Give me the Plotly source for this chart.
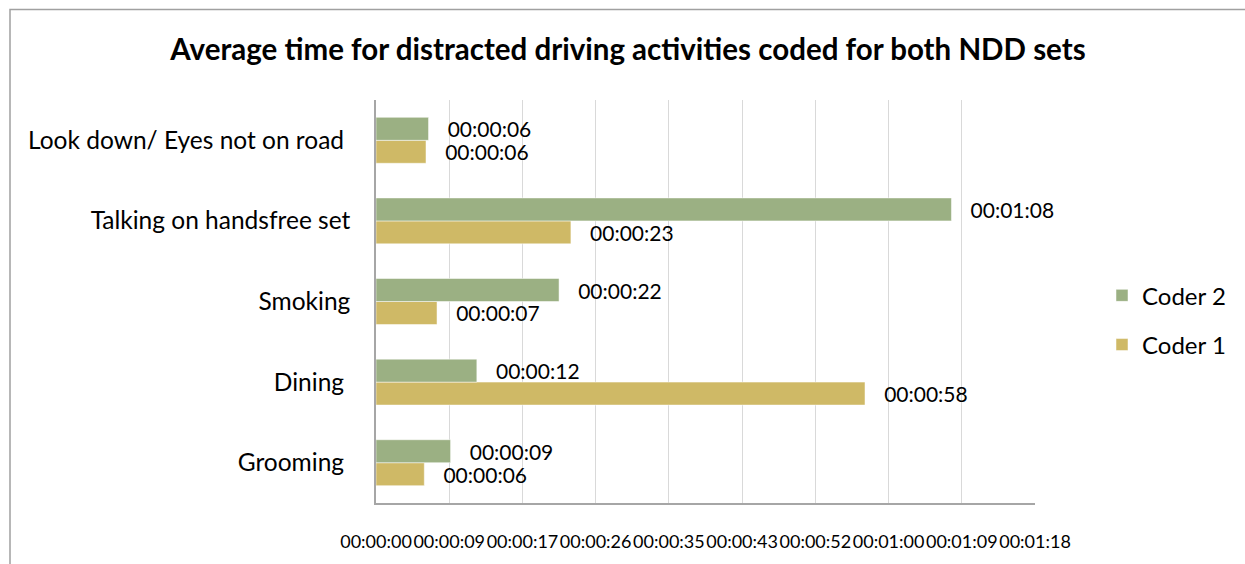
import plotly.graph_objects as go

categories = ["Grooming\u00a0", "Dining\u00a0", "Smoking", "Talking on handsfree set", "Look down/ Eyes not on road\u00a0"]
coder1_sec = [5.7, 57.7, 7.2, 23.0, 5.9]
coder2_sec = [8.8, 11.9, 21.6, 67.9, 6.2]
tick_vals = [0, 8.64, 17.28, 25.92, 34.56, 43.2, 51.84, 60.48, 69.12, 77.76]
tick_text = ["00:00:00", "00:00:09", "00:00:17", "00:00:26", "00:00:35",
             "00:00:43", "00:00:52", "00:01:00", "00:01:09", "00:01:18"]

def fmt(s):
    s = int(round(s))
    return "\u00a0\u00a0\u00a0%02d:%02d:%02d" % (s // 3600, (s % 3600) // 60, s % 60)

FONT = "Lato"
green = "#9BB083"
tan = "#CFB966"

fig = go.Figure()
fig.add_trace(go.Bar(
    y=categories, x=coder1_sec, orientation="h", name="Coder 1",
    marker=dict(color=tan, line=dict(color="white", width=0.5)),
    text=[fmt(v) for v in coder1_sec], textposition="outside", constraintext="none",
    textfont=dict(family=FONT, size=21, color="black"), cliponaxis=False,
    legendgroup="c1", legendrank=2,
))
fig.add_trace(go.Bar(
    y=categories, x=coder2_sec, orientation="h", name="Coder 2",
    marker=dict(color=green, line=dict(color="white", width=0.5)),
    text=[fmt(v) for v in coder2_sec], textposition="outside", constraintext="none",
    textfont=dict(family=FONT, size=21, color="black"), cliponaxis=False,
    legendgroup="c2", legendrank=1,
))

W, H = 1245, 564
L, R, T, B = 376, 1035, 100, 514

def px(x):
    return (x - L) / (R - L)

def py(y):
    return (B - y) / (B - T)

fig.update_layout(
    width=W, height=H,
    margin=dict(l=L, r=W - R, t=T, b=H - B),
    paper_bgcolor="white", plot_bgcolor="white",
    barmode="group", bargap=0.43, bargroupgap=0.0,
    font=dict(family=FONT, color="black"),
    title=dict(text="<b>Average time for distracted driving activities coded for both NDD sets</b>",
               x=628 / W, xanchor="center", y=1 - 50 / H, yanchor="middle",
               font=dict(family=FONT, size=29.5, color="black")),
    legend=dict(x=px(1102), xanchor="left", y=py(278), yanchor="top",
                traceorder="grouped", tracegroupgap=15,
                font=dict(family=FONT, size=24, color="black"),
                bgcolor="rgba(0,0,0,0)"),
    xaxis=dict(range=[0, 77.76], tickvals=tick_vals, ticktext=tick_text, tickangle=0,
               showgrid=True, gridcolor="#D9D9D9", gridwidth=1,
               showline=True, linecolor="#A6A6A6", linewidth=1.5,
               zeroline=False, ticks="", ticklabelstandoff=22,
               tickfont=dict(family=FONT, size=18, color="black")),
    yaxis=dict(showgrid=False, showline=True, linecolor="#A6A6A6", linewidth=1.5,
               ticks="", ticklabelstandoff=19,
               tickfont=dict(family=FONT, size=24.5, color="black")),
    shapes=[dict(type="rect", xref="paper", yref="paper",
                 x0=px(10), x1=px(1260), y0=py(580), y1=py(7),
                 line=dict(color="#A0A0A0", width=1.5), fillcolor="rgba(0,0,0,0)",
                 layer="below")],
)

fig.write_html("out.html")
